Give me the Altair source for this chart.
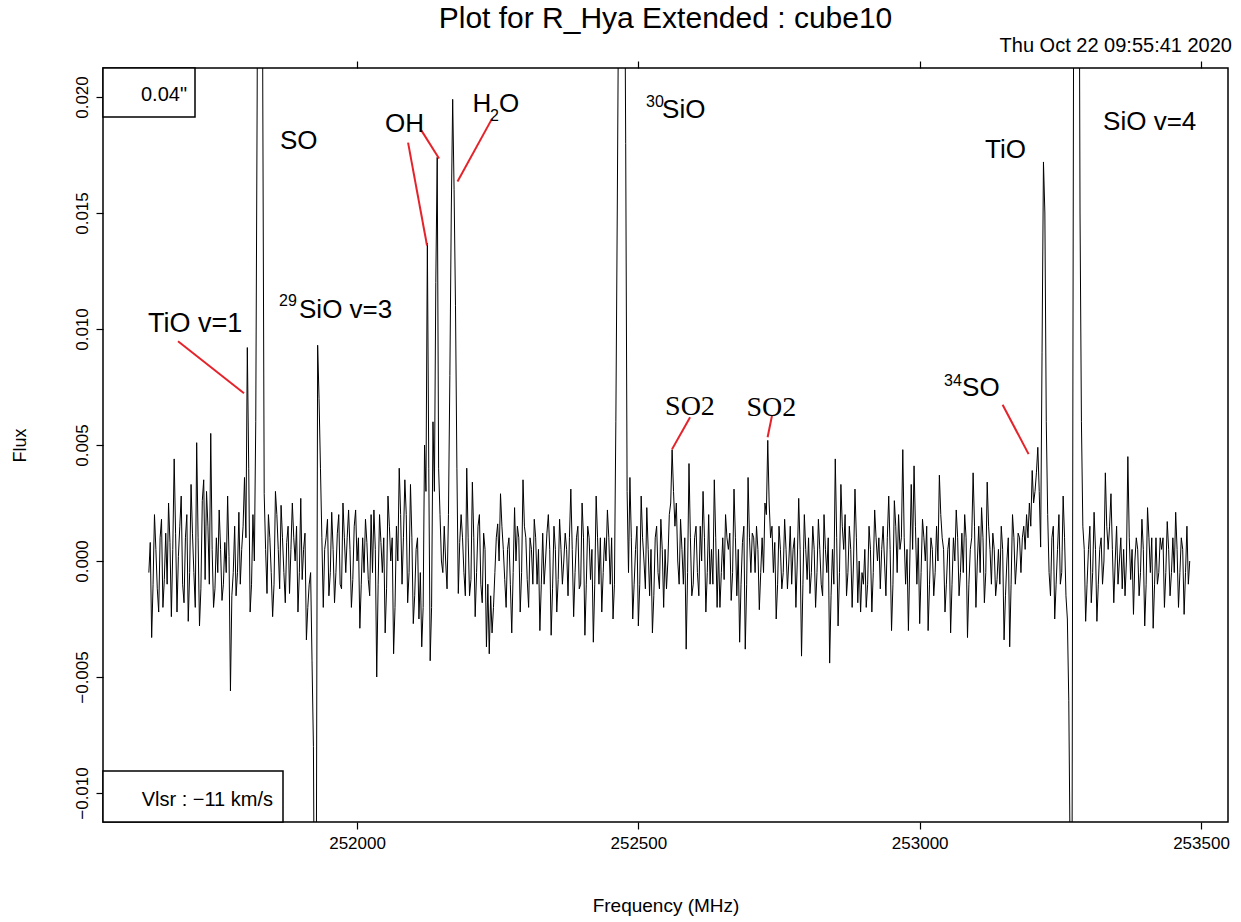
import altair as alt
import pandas as pd

# ---------------- spectrum (units of 1e-4 Jy) ----------------
freq_start = 251630.0      # MHz, first channel
chan_width = 2.5           # MHz per channel
# values on the 5 MHz grid
flux_main_e4 = [
    -5, -33, 20, -12, 10, -20, 12, 25, -24, 44,
    -22, 15, -10, 10, -26, 33, -5, 51, -28, 26,
    -8, 15, 55, -20, 10, 22, -17, 8, 28, -56,
    -5, -15, 21, 5, 36, 92, -22, 20, 60, 450,
    430, 29, -14, 10, -24, 30, 5, 24, -5, 8,
    -14, 25, 0, -22, 27, 5, -34, -10, -43, -200,
    93, 40, -20, 10, -15, 21, -18, 12, -10, 25,
    -5, 22, -20, 15, 0, -29, 10, 18, -8, 20,
    22, -50, 20, -5, -31, 28, 0, -40, 15, 40,
    -10, 35, -18, 33, -27, 5, -25, -37, 50, 137,
    -43, 60, 120, 40, 0, 15, -12, 80, 199, 110,
    -14, 20, -5, 40, -15, 34, -24, 15, -10, 12,
    -37, -40, -31, -5, 16, 29, 5, -20, 10, -31,
    23, 15, -22, 35, 10, -20, 5, 18, -10, -30,
    12, 0, 20, -32, 15, -22, 18, -10, 12, -15,
    31, -24, 10, -12, 25, -32, 15, -8, -35, 28,
    -10, -22, 10, 22, -10, -25, 60, 250, 400, 300,
    30, 36, -25, 5, -28, 28, 0, 23, -15, -31,
    10, -5, 18, -20, -12, 20, 48, 15, 0, 18,
    -10, -38, 42, -15, 10, -5, 15, 30, -22, 20,
    5, 35, -20, -20, 10, 20, 5, -17, 31, -15,
    -35, 8, -38, 36, -5, 10, 15, -21, 10, 25,
    52, 10, -5, -25, 15, -12, 18, -12, 15, 5,
    -20, 27, -41, 20, -8, -14, 15, -20, 18, -10,
    20, -5, -44, 5, 44, -28, 33, 5, -15, 15,
    -20, 31, -18, -22, -10, -20, 15, -22, 22, 0,
    -12, 15, -15, 28, -30, 26, -5, 5, 48, -10,
    -30, 33, 41, -10, -27, 18, 0, -30, 10, -15,
    15, 37, 10, -22, 5, -31, 10, 22, -15, 12,
    20, -33, 5, 38, -20, 15, 23, -18, 34, 5,
    12, -15, 5, 15, -34, 0, -37, 20, -10, 12,
    -5, 15, 20, 25, 39, 30, 49, 6, 172, 60,
    -5, 10, -25, 5, -10, 28, -15, -60, -250, 400,
    450, 150, 15, -26, 5, -18, 21, -26, 5, -10,
    38, 5, 29, -18, 15, 0, -12, -15, 45, -8,
    -23, 10, -15, 18, -28, 23, -5, -29, 10, -5,
    5, -20, 17, -15, 10, 21, -20, 10, -23, 15, 0,
]
# values half-way between the 5 MHz channels
flux_mid_e4 = [
    8, -10, 5, -22, 18, -8, -10, 8, 5, 12,
    2, 28, -18, 20, -5, 12, -20, 10, -12, 35,
    30, -10, 5, -12, -5, 5, -10, -5, 2, -15,
    15, -5, -10, 15, 10, 40, -10, 0, 200, 480,
    200, 5, 20, -5, -10, 20, -12, 10, -18, 15,
    5, 10, 15, -5, -8, 12, -20, -5, -80, -150,
    70, 10, 5, 18, -5, 5, -5, 20, -12, 10,
    10, 5, -8, 22, 10, -10, -5, 8, -15, -5,
    5, -10, 8, 10, -12, 15, 10, -20, 0, 20,
    10, 20, -5, 10, -15, 10, -5, -20, 30, 40,
    -20, 30, 174, 20, -5, 0, 20, 150, 160, 40,
    8, 10, -15, 10, -8, 10, -5, 20, -18, 5,
    -10, -15, -20, 10, 0, 15, -8, 5, -10, -5,
    0, 10, -5, 15, -8, 10, -10, 10, 5, -10,
    -10, 12, 5, -12, 5, -8, 5, 0, 5, 10,
    5, -5, 15, -10, 10, -10, 10, 5, -10, 10,
    10, -5, 0, 10, 10, -10, 150, 350, 380, 180,
    -5, 10, -10, 15, -10, 10, -12, 5, 5, -15,
    15, -12, 5, 5, 0, 25, 30, 25, -10, 5,
    10, -5, 10, -10, 15, -15, 0, 10, -5, -10,
    -10, 10, 5, -5, -8, 10, 12, -5, 10, 5,
    -10, 15, -10, 10, 12, -5, 5, -5, -5, 20,
    25, 15, 8, -10, 5, -5, 5, 0, -10, 10,
    0, 5, -10, 5, 10, -5, 5, -5, 5, -15,
    5, 10, -15, -10, 10, -5, 15, 20, -5, 5,
    0, 10, 0, -5, 5, -10, 5, -5, 10, 10,
    5, 0, 10, 5, -10, 15, 20, 10, 10, 5,
    0, 5, 15, 10, -5, 10, 15, -10, 5, -5,
    0, 20, 5, -10, 10, -10, 0, 10, -5, -5,
    10, -10, 10, 15, 0, -5, 10, -5, 15, -10,
    5, -8, -10, 5, -15, 10, -10, 10, 0, 10,
    10, 5, 10, 15, 25, 38, 30, 90, 150, 20,
    -15, 15, -10, 20, -5, 10, -25, -130, 100, 500,
    350, 60, 5, -10, 15, -5, 5, -10, 10, 0,
    15, 15, 5, 0, -10, 10, 5, 0, 10, 5,
    0, 5, -5, 5, -10, 10, 10, -10, -10, 10,
    10, -5, 5, -5, -5, 5, -5, 5, -5, -10,
]
flux_e4 = []
for a, b in zip(flux_main_e4, flux_mid_e4):
    flux_e4 += [a, b]
flux_e4.append(flux_main_e4[-1])
freq = [freq_start + chan_width * i for i in range(len(flux_e4))]
flux = [v * 1e-4 for v in flux_e4]

# ---------------- axes ----------------
x_domain = [251548.5, 253548.0]
y_domain = [-0.01125, 0.02125]
x_ticks = [252000, 252500, 253000, 253500]
y_ticks = [-0.010, -0.005, 0.000, 0.005, 0.010, 0.015, 0.020]

# ---------------- line labels ----------------
sans_text = ["TiO v=1", "SO", "29", "SiO v=3", "OH", "H", "2", "O",
             "30", "SiO", "SiO v=4", "TiO", "34", "SO"]
sans_freq = [251628.5, 251863.1, 251861.4, 251896.9, 252049.8, 252205.3, 252236.5, 252252.5,
             252513.7, 252542.1, 253326.0, 253116.3, 253043.4, 253075.4]
sans_flux = [0.009857, 0.017777, 0.010976, 0.010459, 0.018508, 0.019339, 0.018980, 0.019339,
             0.019584, 0.019111, 0.018594, 0.017389, 0.007532, 0.007102]
sans_size = [27, 26, 16, 26, 26, 26, 16, 26, 16, 26, 26, 26, 16, 26]

serif_text = ["SO2", "SO2"]
serif_freq = [252547.5, 252692.3]
serif_flux = [0.006284, 0.006241]

# red pointer segments
seg_f1 = [251681.8, 252090.7, 252114.6, 252240.0, 252591.9, 252737.7, 253147.4]
seg_v1 = [0.009469, 0.018035, 0.018551, 0.019068, 0.006198, 0.006284, 0.006736]
seg_f2 = [251799.1, 252124.4, 252145.8, 252178.6, 252559.9, 252729.7, 253193.6]
seg_v2 = [0.007231, 0.013601, 0.017346, 0.016356, 0.004821, 0.005337, 0.004606]

spec_df = pd.DataFrame({"freq": freq, "flux": flux})
sans_df = pd.DataFrame({"text": sans_text, "freq": sans_freq, "flux": sans_flux, "size": sans_size})
serif_df = pd.DataFrame({"text": serif_text, "freq": serif_freq, "flux": serif_flux})
seg_df = pd.DataFrame({"f1": seg_f1, "v1": seg_v1, "f2": seg_f2, "v2": seg_v2})
one = pd.DataFrame({"k": [0]})

FONT = "Liberation Sans"
xscale = alt.Scale(domain=x_domain, nice=False, zero=False)
yscale = alt.Scale(domain=y_domain, nice=False, zero=False)

x_axis = alt.Axis(values=x_ticks, format="d", title="Frequency (MHz)", labelFontSize=17,
                  titleFontSize=19, tickSize=7, labelPadding=6, titlePadding=45, domain=False)
y_axis = alt.Axis(values=y_ticks, format=".3f", title="Flux", labelFontSize=17, labelAngle=270,
                  labelAlign="center", labelBaseline="bottom", tickSize=7, labelPadding=5,
                  titleFontSize=18, titlePadding=44, domain=False)
top_axis = alt.Axis(orient="top", values=x_ticks, labels=False, title=None, tickSize=7, domain=False)

line = alt.Chart(spec_df).mark_line(color="black", strokeWidth=1, clip=True).encode(
    x=alt.X("freq:Q", scale=xscale, axis=x_axis),
    y=alt.Y("flux:Q", scale=yscale, axis=y_axis),
)

segs = alt.Chart(seg_df).mark_rule(color="#e4232b", strokeWidth=2).encode(
    x=alt.X("f1:Q", scale=xscale, axis=top_axis),
    y=alt.Y("v1:Q", scale=yscale, axis=None),
    x2="f2:Q",
    y2="v2:Q",
)

sans = alt.Chart(sans_df).mark_text(align="left", baseline="alphabetic", font=FONT, color="black").encode(
    x=alt.X("freq:Q", scale=xscale, axis=None),
    y=alt.Y("flux:Q", scale=yscale, axis=None),
    text="text:N",
    size=alt.Size("size:Q", scale=None, legend=None),
)

serif = alt.Chart(serif_df).mark_text(align="left", baseline="alphabetic", font="Liberation Serif",
                                      fontSize=28, color="black").encode(
    x=alt.X("freq:Q", scale=xscale, axis=None),
    y=alt.Y("flux:Q", scale=yscale, axis=None),
    text="text:N",
)

box1 = alt.Chart(one).mark_rect(fill="white", stroke="black", strokeWidth=1.5).encode(
    x=alt.value(0), x2=alt.value(92), y=alt.value(0), y2=alt.value(49))
box2 = alt.Chart(one).mark_rect(fill="white", stroke="black", strokeWidth=1.5).encode(
    x=alt.value(0), x2=alt.value(180), y=alt.value(703), y2=alt.value(754))
box1_txt = alt.Chart(one).mark_text(text='0.04"', align="right", baseline="alphabetic",
                                    font=FONT, fontSize=20, color="black").encode(
    x=alt.value(84), y=alt.value(33))
box2_txt = alt.Chart(one).mark_text(text="Vlsr : \u221211 km/s", align="right", baseline="alphabetic",
                                    font=FONT, fontSize=20, color="black").encode(
    x=alt.value(170), y=alt.value(738))
date_txt = alt.Chart(one).mark_text(text="Thu Oct 22 09:55:41 2020", align="right", baseline="alphabetic",
                                    font=FONT, fontSize=20, color="black").encode(
    x=alt.value(1129), y=alt.value(-16))

chart = alt.layer(line, segs, sans, serif, box1, box2, box1_txt, box2_txt, date_txt).resolve_axis(
    x="independent", y="independent"
).properties(
    width=1125,
    height=754,
    autosize=alt.AutoSizeParams(type="none"),
    padding={"left": 103, "top": 68, "right": 13, "bottom": 100},
    title=alt.TitleParams(text="Plot for R_Hya Extended : cube10", font=FONT, fontSize=30,
                          fontWeight="normal", anchor="middle", color="black", offset=2),
).configure_view(
    stroke="black", strokeWidth=1.5
).configure_axis(
    labelFont=FONT, titleFont=FONT, labelColor="black", titleColor="black",
    tickColor="black", grid=False, titleFontWeight="normal", tickWidth=1.2
)

chart.save("out.html", embed_options={"renderer": "svg", "actions": False})
